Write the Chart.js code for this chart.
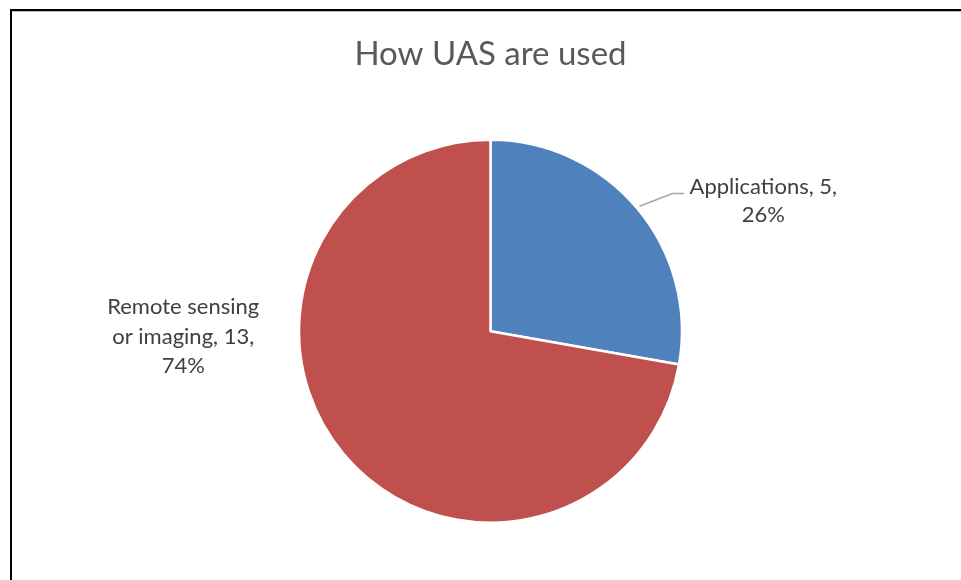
<!DOCTYPE html>
<html>
<head>
<meta charset="utf-8">
<script src="https://cdn.jsdelivr.net/npm/chart.js@4/dist/chart.umd.min.js"></script>
<style>
  html, body { margin: 0; padding: 0; background: #fff; }
  #wrap { position: relative; width: 961px; height: 580px; }
</style>
</head>
<body>
<div id="wrap"><canvas id="uasChart" width="961" height="580"></canvas></div>
<script>
const categories = ['Applications', 'Remote sensing or imaging'];
const counts = [5, 13];
const percentLabels = ['26%', '74%'];
const sliceColors = ['#4F81BD', '#C0504D'];

const FONT = 'Lato, "Open Sans", sans-serif';

// frame lines like the exported chart box (left + top edge)
const framePlugin = {
  id: 'frame',
  beforeDraw(chart){
    const ctx = chart.ctx;
    ctx.save();
    ctx.fillStyle = '#fff';
    ctx.fillRect(0, 0, chart.width, chart.height);
    ctx.fillStyle = '#000';
    ctx.fillRect(10, 9, chart.width - 10, 2);
    ctx.fillRect(10, 9, 2, chart.height - 9);
    ctx.fillStyle = '#bfbfbf';
    ctx.fillRect(12, 11, chart.width - 12, 1);
    ctx.restore();
  }
};

// data labels "Name, value, pct" placed around the pie (Excel best fit look)
const labelPlugin = {
  id: 'sliceLabels',
  afterDatasetsDraw(chart){
    const ctx = chart.ctx;
    const arcs = chart.getDatasetMeta(0).data;
    ctx.save();
    ctx.font = '22px ' + FONT;
    ctx.fillStyle = '#404040';
    ctx.textAlign = 'center';
    ctx.textBaseline = 'middle';
    const lh = 29.5;

    // Applications: label up-right with a leader line
    const a = arcs[0];
    const r = a.outerRadius, cx = a.x, cy = a.y;
    const mid = (a.startAngle + a.endAngle) / 2;
    const lx = cx + r * 1.425, ly = cy - r * 0.755;
    const lines0 = [categories[0] + ', ' + counts[0] + ',', percentLabels[0]];
    lines0.forEach((t, i) => ctx.fillText(t, lx, ly + i * (lh - 1)));
    ctx.strokeStyle = '#a6a6a6';
    ctx.lineWidth = 1.5;
    ctx.beginPath();
    ctx.moveTo(cx + Math.cos(mid) * (r + 3), cy + Math.sin(mid) * (r + 3));
    ctx.lineTo(cx + r * 0.95, cy - r * 0.72);
    ctx.lineTo(cx + r * 1.012, cy - r * 0.72);
    ctx.stroke();

    // Remote sensing: label on the left, outside the pie
    const b = arcs[1];
    const bx = b.x - b.outerRadius * 1.605, by = b.y - b.outerRadius * 0.125;
    const lines1 = ['Remote sensing', 'or imaging, ' + counts[1] + ',', percentLabels[1]];
    lines1.forEach((t, i) => ctx.fillText(t, bx, by + i * lh));
    ctx.restore();
  }
};

new Chart(document.getElementById('uasChart'), {
  type: 'pie',
  data: {
    labels: categories,
    datasets: [{
      data: counts,
      backgroundColor: sliceColors,
      borderColor: '#ffffff',
      borderWidth: 2.5
    }]
  },
  options: {
    responsive: false,
    animation: false,
    devicePixelRatio: 1,
    layout: { padding: { left: 30, right: 10, top: 0, bottom: 56 } },
    plugins: {
      legend: { display: false },
      tooltip: { enabled: false },
      title: {
        display: true,
        text: 'How UAS are used',
        color: '#595959',
        font: { family: FONT, size: 33, weight: 'normal' },
        lineHeight: 1.2,
        padding: { top: 35, bottom: 64 }
      }
    }
  },
  plugins: [framePlugin, labelPlugin]
});
</script>
</body>
</html>
